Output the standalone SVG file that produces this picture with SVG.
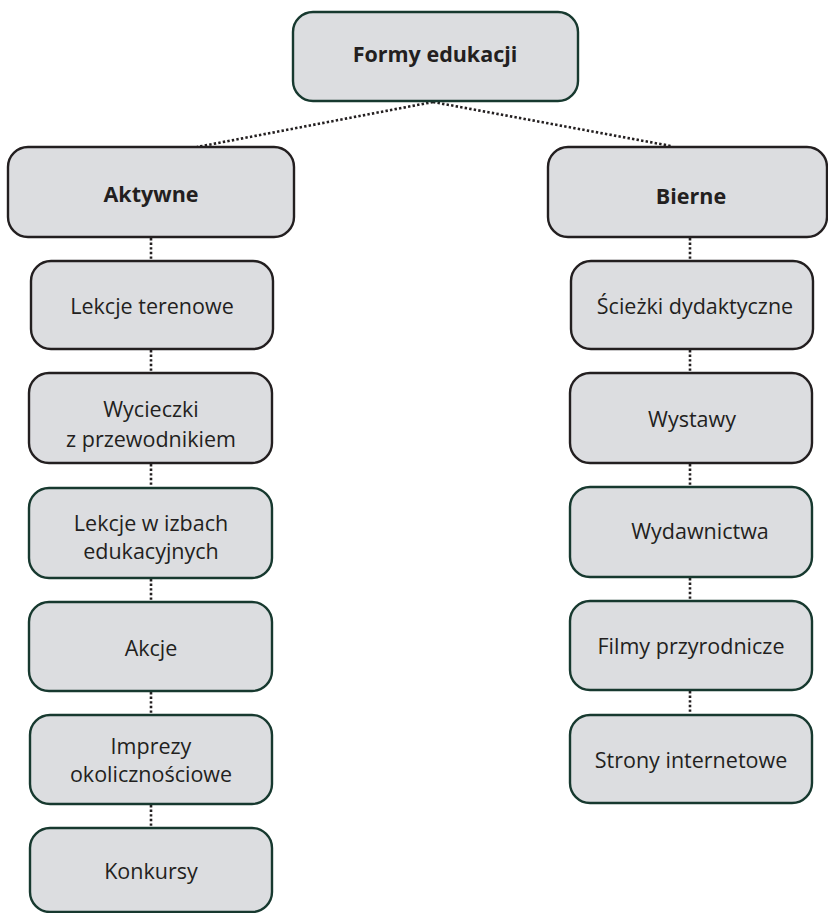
<svg xmlns="http://www.w3.org/2000/svg" width="828" height="913" viewBox="0 0 828 913">
  <style>
    .box { fill: #dcdde0; stroke-width: 2.4; }
    .dark { stroke: #231f20; }
    .teal { stroke: #17392f; }
    .lbl { font-family: "Open Sans", "Noto Sans", "Liberation Sans", sans-serif; font-size: 21.5px; fill: #231f20; text-anchor: middle; dominant-baseline: central; }
    .hd { font-weight: bold; font-size: 21.5px; }
    .dot { stroke: #231f20; stroke-width: 2.6; stroke-dasharray: 2.4 2.2; fill: none; }
  </style>
  <rect width="828" height="913" fill="#ffffff"/>

  <g id="connectors">
    <line class="dot" x1="433" y1="102" x2="197" y2="147"/>
    <line class="dot" x1="433" y1="102" x2="671" y2="146"/>
    <line class="dot" x1="151" y1="238" x2="151" y2="261"/>
    <line class="dot" x1="151" y1="350" x2="151" y2="373"/>
    <line class="dot" x1="151" y1="464" x2="151" y2="488"/>
    <line class="dot" x1="151" y1="579" x2="151" y2="602"/>
    <line class="dot" x1="151" y1="692" x2="151" y2="715"/>
    <line class="dot" x1="151" y1="805" x2="151" y2="828"/>
    <line class="dot" x1="690" y1="238" x2="690" y2="261"/>
    <line class="dot" x1="690" y1="350" x2="690" y2="373"/>
    <line class="dot" x1="690" y1="464" x2="690" y2="487"/>
    <line class="dot" x1="690" y1="578" x2="690" y2="601"/>
    <line class="dot" x1="690" y1="691" x2="690" y2="715"/>
  </g>

  <g id="formy-edukacji">
    <rect class="box teal" x="293" y="12" width="285" height="89" rx="20"/>
    <text class="lbl hd" x="435" y="53">Formy edukacji</text>
  </g>

  <g id="aktywne">
    <rect class="box dark" x="8" y="147" width="286" height="90" rx="20"/>
    <text class="lbl hd" x="151" y="193">Aktywne</text>
  </g>
  <g id="lekcje-terenowe">
    <rect class="box dark" x="31" y="261" width="242" height="88" rx="20"/>
    <text class="lbl" x="152" y="305">Lekcje terenowe</text>
  </g>
  <g id="wycieczki">
    <rect class="box dark" x="29" y="373" width="243" height="90" rx="20"/>
    <text class="lbl" x="151" y="408">Wycieczki</text>
    <text class="lbl" x="151" y="438">z przewodnikiem</text>
  </g>
  <g id="lekcje-w-izbach">
    <rect class="box teal" x="29" y="488" width="243" height="90" rx="20"/>
    <text class="lbl" x="151" y="522">Lekcje w izbach</text>
    <text class="lbl" x="151" y="550">edukacyjnych</text>
  </g>
  <g id="akcje">
    <rect class="box teal" x="29" y="602" width="243" height="89" rx="20"/>
    <text class="lbl" x="151" y="647">Akcje</text>
  </g>
  <g id="imprezy">
    <rect class="box teal" x="30" y="715" width="242" height="89" rx="20"/>
    <text class="lbl" x="151" y="745">Imprezy</text>
    <text class="lbl" x="151" y="773">okolicznościowe</text>
  </g>
  <g id="konkursy">
    <rect class="box teal" x="30" y="828" width="242" height="84" rx="20"/>
    <text class="lbl" x="151" y="870">Konkursy</text>
  </g>

  <g id="bierne">
    <rect class="box dark" x="548" y="147" width="279" height="90" rx="20"/>
    <text class="lbl hd" x="691" y="195">Bierne</text>
  </g>
  <g id="sciezki">
    <rect class="box dark" x="571" y="261" width="242" height="88" rx="20"/>
    <text class="lbl" x="695" y="305">Ścieżki dydaktyczne</text>
  </g>
  <g id="wystawy">
    <rect class="box dark" x="570" y="373" width="242" height="90" rx="20"/>
    <text class="lbl" x="692" y="418">Wystawy</text>
  </g>
  <g id="wydawnictwa">
    <rect class="box teal" x="570" y="487" width="242" height="90" rx="20"/>
    <text class="lbl" x="700" y="530">Wydawnictwa</text>
  </g>
  <g id="filmy">
    <rect class="box teal" x="570" y="601" width="242" height="89" rx="20"/>
    <text class="lbl" x="691" y="645">Filmy przyrodnicze</text>
  </g>
  <g id="strony">
    <rect class="box teal" x="570" y="715" width="242" height="88" rx="20"/>
    <text class="lbl" x="691" y="759">Strony internetowe</text>
  </g>
</svg>
